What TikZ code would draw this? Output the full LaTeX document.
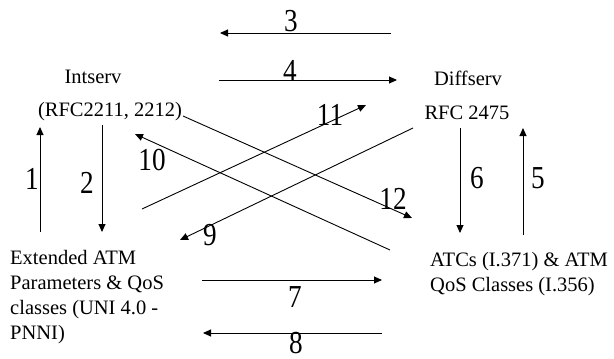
\documentclass[tikz,border=0pt]{standalone}
\usepackage{fontspec}
\setmainfont{Liberation Serif}
\newfontfamily\numfont[FakeStretch=0.85]{Liberation Serif}
\usepackage{tikz}
\usetikzlibrary{arrows.meta,positioning}

\begin{document}
\begin{tikzpicture}[x=1pt,y=-1pt,
  t/.style={inner sep=0pt,align=left,font=\fontsize{20.5}{25}\selectfont},
  num/.style={inner sep=0pt,font=\numfont\fontsize{32}{34}\selectfont},
  ar/.style={-{Triangle[length=8pt,width=7pt]},line width=0.9pt}]
\useasboundingbox (0,0) rectangle (614,359);
% text blocks
\node[t] (intserv) at (93,77) {Intserv};
\node[t] (rfcint) at (110,112) {(RFC2211, 2212)};
\node[t] (diffserv) at (468,78) {Diffserv};
\node[t] (rfcdiff) at (467,113) {RFC 2475};
\node[t,anchor=west] (ext) at (10,297.5) {Extended ATM\\Parameters \& QoS\\classes (UNI 4.0 -\\PNNI)};
\node[t,anchor=west] (atc) at (430,274.5) {ATCs (I.371) \& ATM\\QoS Classes (I.356)};
% arrow ends
\coordinate (s1) at (40,232);  \coordinate (e1) at (40,127);
\coordinate (s2) at (102,125); \coordinate (e2) at (102,232);
\coordinate (s3) at (391,33);  \coordinate (e3) at (220,33);
\coordinate (s4) at (219,80);  \coordinate (e4) at (397,80);
\coordinate (s5) at (523,235); \coordinate (e5) at (523,128);
\coordinate (s6) at (460,128); \coordinate (e6) at (460,233);
\coordinate (s7) at (202,280); \coordinate (e7) at (382,280);
\coordinate (s8) at (382,333); \coordinate (e8) at (203,333);
\coordinate (s9) at (413,128); \coordinate (e9) at (180,240);
\coordinate (s10) at (390,250); \coordinate (e10) at (135,134);
\coordinate (s11) at (142,209); \coordinate (e11) at (366,105);
\coordinate (s12) at (183,116); \coordinate (e12) at (412,218);
\draw[ar] (s1)--(e1); \draw[ar] (s2)--(e2);
\draw[ar] (s3)--(e3); \draw[ar] (s4)--(e4);
\draw[ar] (s5)--(e5); \draw[ar] (s6)--(e6);
\draw[ar] (s7)--(e7); \draw[ar] (s8)--(e8);
\draw[ar] (s9)--(e9); \draw[ar] (s10)--(e10);
\draw[ar] (s11)--(e11); \draw[ar] (s12)--(e12);
% numbers
\node[num] (n1) at (32,179) {1};
\node[num] (n2) at (87,183) {2};
\node[num] (n3) at (291,21) {3};
\node[num] (n4) at (290,71) {4};
\node[num] (n5) at (538,178) {5};
\node[num] (n6) at (477,178) {6};
\node[num] (n7) at (295,297) {7};
\node[num] (n8) at (296,343) {8};
\node[num] (n9) at (210,235) {9};
\node[num] (n10) at (152,160) {10};
\node[num] (n11) at (330,115) {11};
\node[num] (n12) at (393,199) {12};
\end{tikzpicture}
\end{document}
